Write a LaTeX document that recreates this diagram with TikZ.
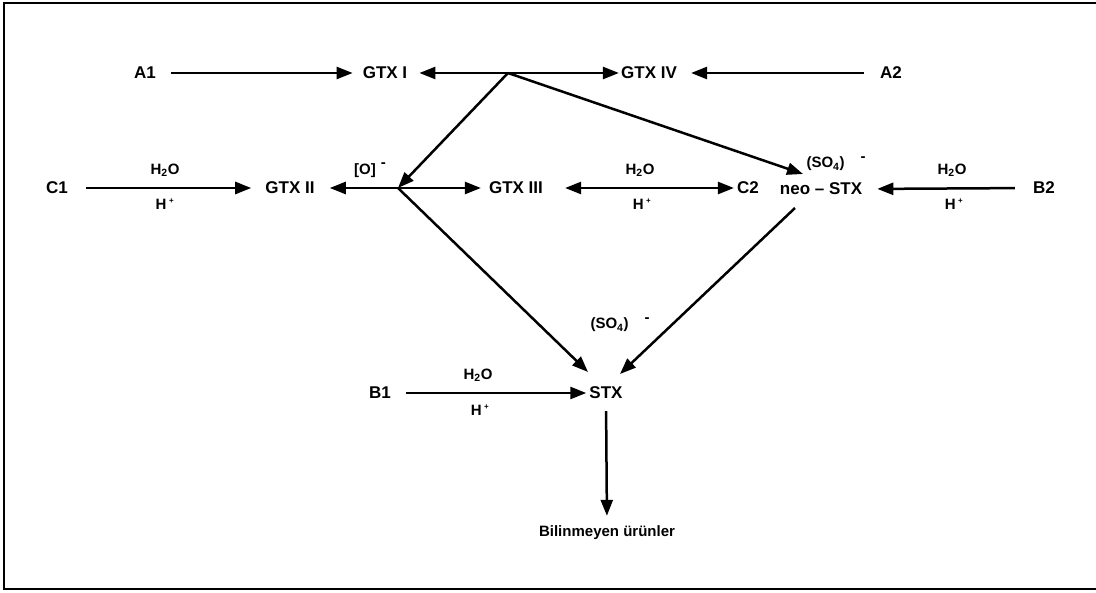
\documentclass[tikz,border=0pt]{standalone}
\usepackage{fontspec}
\setmainfont{Liberation Sans}
\usetikzlibrary{arrows.meta}
\begin{document}
\begin{tikzpicture}[x=1pt,y=-1pt,
  lbl/.style={font=\fontsize{17}{17}\selectfont\bfseries, inner sep=0pt},
  sm/.style={font=\fontsize{15}{15}\selectfont\bfseries, inner sep=0pt},
  tipstyle/.tip={Triangle[length=16pt,width=12pt]},
  arr/.style={line width=2.5pt, -tipstyle},
  darr/.style={line width=2.5pt, tipstyle-tipstyle},
  ln/.style={line width=2.5pt}]
\useasboundingbox (0,0) rectangle (1096,593);
% frame
\coordinate (fa) at (1096,3);
\coordinate (fb) at (4,3);
\coordinate (fc) at (4,589);
\coordinate (fd) at (1096,589);
\draw[ln] (fa) -- (fb) -- (fc) -- (fd);

% row 1
\node[lbl] (a1) at (145,73) {A1};
\node[lbl] (gtx1) at (385,73) {GTX I};
\node[lbl] (gtx4) at (649,73) {GTX IV};
\node[lbl] (a2) at (891,73) {A2};
\coordinate (b1) at (508,73);

% row 2
\node[lbl] (c1) at (57,188) {C1};
\node[sm] (h2oa) at (165,170) {H\textsubscript{2}O};
\node[sm] (ha) at (165,204) {H\,\textsuperscript{\fontsize{8}{8}\selectfont +}};
\node[lbl] (gtx2) at (290,188) {GTX II};
\coordinate (j) at (398,188);
\node[sm] (ox) at (370,170) {[O]\hspace{5pt}\raisebox{7pt}{-}};
\node[lbl] (gtx3) at (516,188) {GTX III};
\node[sm] (h2ob) at (640,170) {H\textsubscript{2}O};
\node[sm] (hb) at (642,204) {H\,\textsuperscript{\fontsize{8}{8}\selectfont +}};
\node[lbl] (c2) at (748,188) {C2};
\node[lbl] (neo) at (821,189) {neo -- STX};
\node[sm] (so4a) at (836,164) {(SO\textsubscript{4})\hspace{16pt}\raisebox{6pt}{-}};
\coordinate (neoin) at (803,174);
\coordinate (neoout) at (795,208);
\node[sm] (h2oc) at (952,170) {H\textsubscript{2}O};
\node[sm] (hc) at (954,204) {H\,\textsuperscript{\fontsize{8}{8}\selectfont +}};
\node[lbl] (b2) at (1044,188) {B2};

% lower part
\node[lbl] (b1n) at (380,393) {B1};
\node[sm] (h2od) at (478,375) {H\textsubscript{2}O};
\node[sm] (hd) at (480,410) {H\,\textsuperscript{\fontsize{8}{8}\selectfont +}};
\node[lbl] (stx) at (606,393) {STX};
\node[sm] (so4b) at (620,325) {(SO\textsubscript{4})\hspace{16pt}\raisebox{6pt}{-}};
\coordinate (stxl) at (588,372);
\coordinate (stxr) at (620,374);
\node[sm] (unk) at (607,533) {Bilinmeyen ürünler};

% connectors
\draw[arr, shorten <=15pt, shorten >=10pt] (a1.east) -- (gtx1.west);
\draw[darr, shorten <=12pt, shorten >=2pt] (gtx1.east) -- (gtx4.west);
\draw[arr, shorten <=16pt, shorten >=14pt] (a2.west) -- (gtx4.east);
\draw[arr] (b1) -- (j);
\draw[arr] (b1) -- (neoin);

\draw[arr, shorten <=18pt, shorten >=14pt] (c1.east) -- (gtx2.west);
\draw[arr, shorten >=15pt] (j) -- (gtx2.east);
\draw[arr, shorten >=8pt] (j) -- (gtx3.west);
\draw[darr, shorten <=22pt, shorten >=3pt] (gtx3.east) -- (c2.west);
\draw[arr, shorten <=18pt, shorten >=15pt] (b2.west) -- (neo.east);

\draw[arr] (j) -- (stxl);
\draw[arr] (neoout) -- (stxr);
\draw[arr, shorten <=15pt, shorten >=3pt] (b1n.east) -- (stx.west);
\draw[arr, shorten <=12pt, shorten >=10pt] (stx.south) -- (unk.north);
\end{tikzpicture}
\end{document}
